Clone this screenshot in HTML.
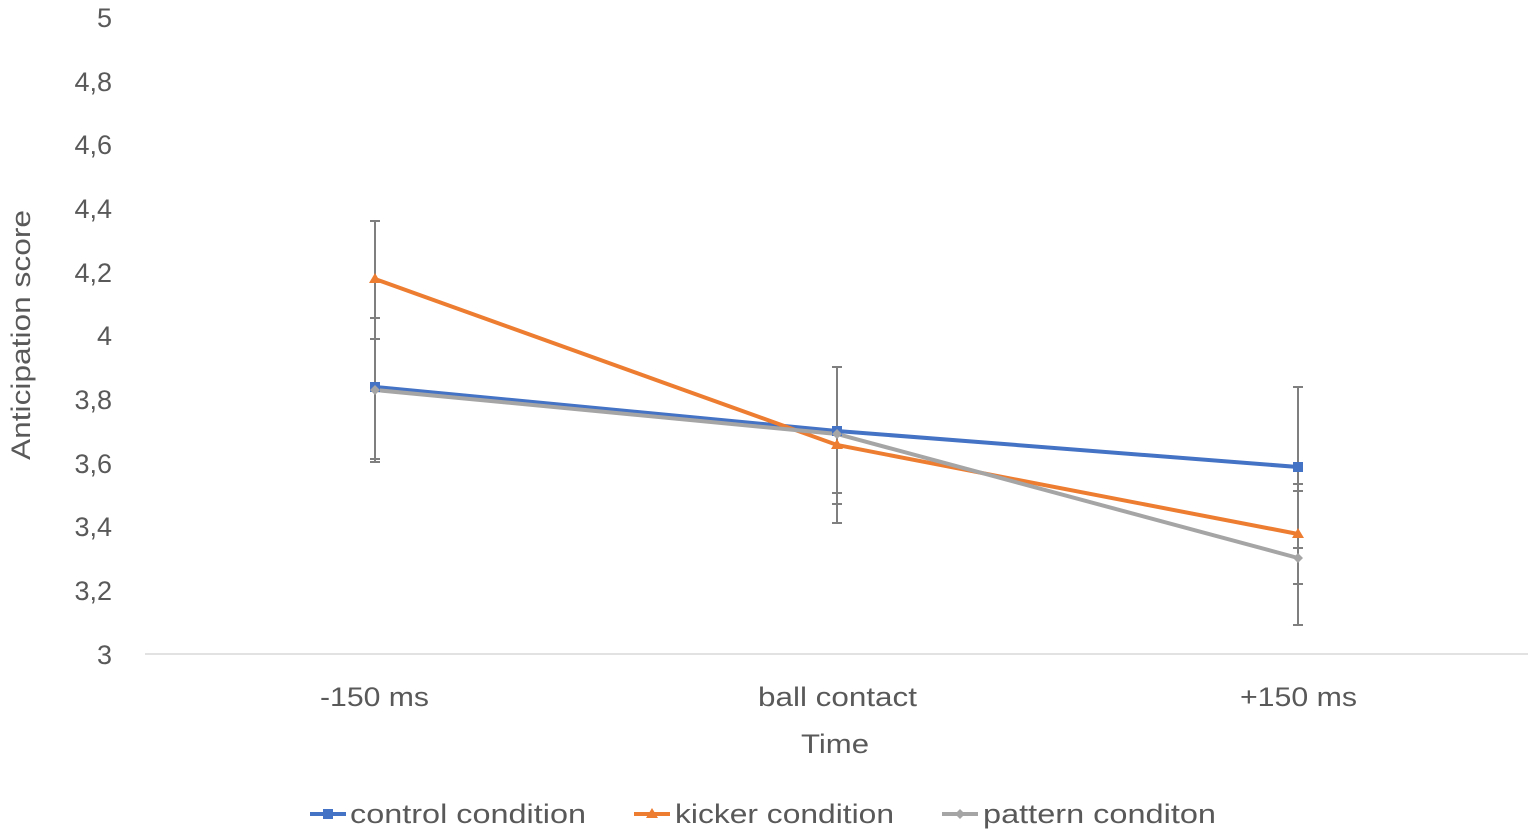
<!DOCTYPE html>
<html><head><style>body{margin:0;background:#fff}svg{display:block}text{font-family:"Liberation Sans",sans-serif;fill:#595959}</style></head><body>
<svg width="1535" height="835" viewBox="0 0 1535 835">
<line x1="145" y1="654" x2="1528" y2="654" stroke="#d9d9d9" stroke-width="1.5"/>
<g font-size="27" text-anchor="end">
<text x="112" y="27">5</text><text x="112" y="91">4,8</text><text x="112" y="154">4,6</text><text x="112" y="218">4,4</text><text x="112" y="282">4,2</text><text x="112" y="345">4</text><text x="112" y="409">3,8</text><text x="112" y="473">3,6</text><text x="112" y="536">3,4</text><text x="112" y="600">3,2</text><text x="112" y="664">3</text>
</g>
<g font-size="27">
<text x="320" y="706" textLength="109" lengthAdjust="spacingAndGlyphs">-150 ms</text>
<text x="758" y="706" textLength="159" lengthAdjust="spacingAndGlyphs">ball contact</text>
<text x="1240" y="706" textLength="117" lengthAdjust="spacingAndGlyphs">+150 ms</text>
<text x="801" y="753" textLength="68" lengthAdjust="spacingAndGlyphs">Time</text>
</g>
<text transform="translate(30,460) rotate(-90)" font-size="27" textLength="250" lengthAdjust="spacingAndGlyphs">Anticipation score</text>
<g stroke="#7f7f7f" stroke-width="2">
<line x1="375" y1="221" x2="375" y2="462"/><line x1="837" y1="367" x2="837" y2="523"/><line x1="1298" y1="387" x2="1298" y2="625"/>
<path d="M370 221h10M370 318h10M370 339h10M370 459h10M370 462h10M832 367h10M832 493h10M832 504h10M832 523h10M1293 387h10M1293 484h10M1293 491h10M1293 548h10M1293 584h10M1293 625h10"/>
</g>
<polyline points="375,387 837,431 1298,467" fill="none" stroke="#4472c4" stroke-width="4"/>
<polyline points="375,279 837,445 1298,534" fill="none" stroke="#ed7d31" stroke-width="4"/>
<polyline points="375,390 837,434 1298,558" fill="none" stroke="#a5a5a5" stroke-width="4"/>
<g fill="#4472c4"><rect x="370" y="382" width="10" height="10"/><rect x="832" y="426" width="10" height="10"/><rect x="1293" y="462" width="10" height="10"/></g>
<g fill="#ed7d31"><path d="M375 273l6 10h-12z M837 439l6 10h-12z M1298 528l6 10h-12z"/></g>
<g fill="#a5a5a5"><path d="M375 385l5 5-5 5-5-5z M837 429l5 5-5 5-5-5z M1298 553l5 5-5 5-5-5z"/></g>
<g font-size="27">
<line x1="310" y1="814" x2="346" y2="814" stroke="#4472c4" stroke-width="4"/><rect x="323" y="809" width="10" height="10" fill="#4472c4"/>
<text x="350" y="823" textLength="236" lengthAdjust="spacingAndGlyphs">control condition</text>
<line x1="634" y1="814" x2="670" y2="814" stroke="#ed7d31" stroke-width="4"/><path d="M652 808l6 10h-12z" fill="#ed7d31"/>
<text x="675" y="823" textLength="219" lengthAdjust="spacingAndGlyphs">kicker condition</text>
<line x1="942" y1="814" x2="978" y2="814" stroke="#a5a5a5" stroke-width="4"/><path d="M960 809l5 5-5 5-5-5z" fill="#a5a5a5"/>
<text x="983" y="823" textLength="233" lengthAdjust="spacingAndGlyphs">pattern conditon</text>
</g>
</svg>
</body></html>
